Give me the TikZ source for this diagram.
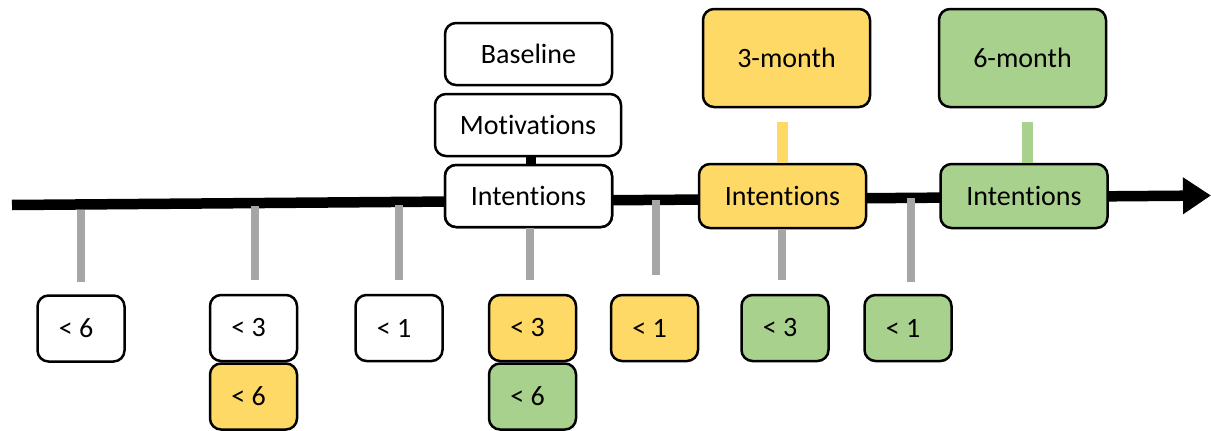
\documentclass[tikz,border=0pt]{standalone}
\usepackage{fontspec}
\setmainfont{Carlito}[Ligatures={NoCommon}]
\usetikzlibrary{arrows.meta}
\definecolor{gold}{HTML}{FFD966}
\definecolor{leaf}{HTML}{A9D18E}
\definecolor{tickgray}{HTML}{A6A6A6}
\begin{document}
\begin{tikzpicture}[x=1pt,y=-1pt,
  box/.style={draw=black, line width=2.5pt, rounded corners=11pt, fill=white,
    inner sep=0pt, font=\fontsize{28}{32}\selectfont},
  bigbox/.style={box, minimum width=167pt, minimum height=62pt},
  numbox/.style={box, minimum width=87pt, minimum height=66pt},
  tick/.style={draw=tickgray, line width=8.5pt},
  timeline/.style={draw=black, line width=10.5pt,
    -{Triangle[length=28pt,width=35pt]}},
  link/.style={line width=11pt}]
\useasboundingbox (0,0) rectangle (1211,431);

% main time axis
\coordinate (ts) at (12,205);
\coordinate (te) at (1211,195.5);
\draw[timeline] (ts) -- (te);

% grey ticks hanging from the axis
\foreach \x/\ya/\yb [count=\i] in {81/210/282, 255/206/280, 399/205/280,
    656/200/275, 911/198/282} {
  \coordinate (ta\i) at (\x,\ya);
  \coordinate (tb\i) at (\x,\yb);
  \draw[tick] (ta\i) -- (tb\i);
}

% baseline column
\node[bigbox] (base) at (528.5,54) {Baseline};
\node[bigbox, minimum width=186pt] (motiv) at (528,125) {Motivations};
\node[bigbox] (iw) at (528.5,196) {};
\draw[link, black, line width=10pt] (motiv.south -| 530.5,0) -- (iw.north -| 530.5,0);
\node[bigbox] (iw) at (528.5,196) {Intentions};

% 3-month follow-up
\node[bigbox, fill=gold, minimum height=98pt] (m3) at (786.5,58) {3-month};
\node[bigbox, fill=gold, minimum height=64pt] (iy) at (782.5,196) {Intentions};
\coordinate (c3) at (782,122);
\draw[link, gold] (c3) -- (iy.north -| c3);

% 6-month follow-up
\node[bigbox, fill=leaf, minimum height=98pt] (m6) at (1022.5,58) {6-month};
\node[bigbox, fill=leaf, minimum height=64pt] (ig) at (1024,196) {Intentions};
\coordinate (c6) at (1027,122);
\draw[link, leaf] (c6) -- (ig.north -| c6);

% ticks below the intention boxes
\coordinate (tw) at (530,280);
\draw[tick] (iw.south -| tw) -- (tw);
\coordinate (ty) at (782,280);
\draw[tick] (iy.south -| ty) -- (ty);

% windows before each measurement
\node[numbox] (a1) at (81,328.5) {< 6\hspace*{10pt}};
\node[numbox] (a2) at (253.5,328) {< 3\hspace*{10pt}};
\node[numbox, fill=gold] (a3) at (253.5,396.5) {< 6\hspace*{10pt}};
\node[numbox] (a4) at (399,328) {< 1\hspace*{10pt}};
\node[numbox, fill=gold] (b1) at (532.5,328) {< 3\hspace*{10pt}};
\node[numbox, fill=leaf] (b2) at (532.5,396.5) {< 6\hspace*{10pt}};
\node[numbox, fill=gold] (b3) at (654.5,328) {< 1\hspace*{10pt}};
\node[numbox, fill=leaf] (c1) at (785,328) {< 3\hspace*{10pt}};
\node[numbox, fill=leaf] (c2) at (908,328) {< 1\hspace*{10pt}};
\end{tikzpicture}
\end{document}
